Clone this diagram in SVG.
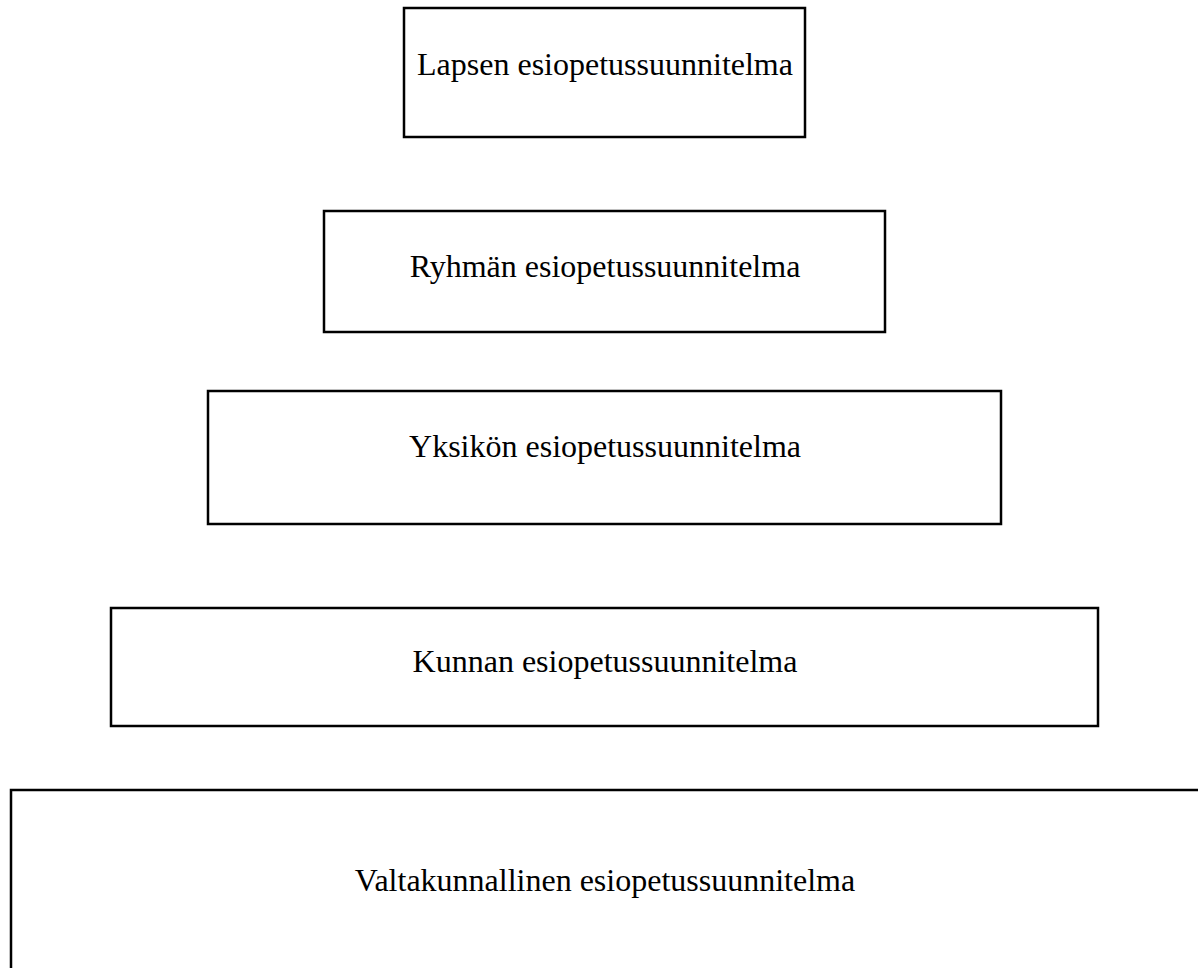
<svg xmlns="http://www.w3.org/2000/svg" width="1198" height="968" viewBox="0 0 1198 968">
<style>
.box{fill:#ffffff;stroke:#000000;stroke-width:2.5}
.lbl{font-family:"Liberation Serif","Times New Roman",serif;font-size:32px;fill:#000000;text-anchor:middle}
</style>
<rect x="0" y="0" width="1198" height="968" fill="#ffffff"/>
<g id="connectors"></g>
<g id="lapsen">
<rect class="box" x="404" y="8" width="401" height="129"/>
<text class="lbl" x="605" y="75">Lapsen esiopetussuunnitelma</text>
</g>
<g id="ryhman">
<rect class="box" x="324" y="211" width="561" height="121"/>
<text class="lbl" x="605" y="277">Ryhmän esiopetussuunnitelma</text>
</g>
<g id="yksikon">
<rect class="box" x="208" y="391" width="793" height="133"/>
<text class="lbl" x="605" y="457">Yksikön esiopetussuunnitelma</text>
</g>
<g id="kunnan">
<rect class="box" x="111" y="608" width="987" height="118"/>
<text class="lbl" x="605" y="672">Kunnan esiopetussuunnitelma</text>
</g>
<g id="valtakunnallinen">
<rect class="box" x="11" y="790" width="1200" height="200"/>
<text class="lbl" x="605" y="891">Valtakunnallinen esiopetussuunnitelma</text>
</g>
</svg>
